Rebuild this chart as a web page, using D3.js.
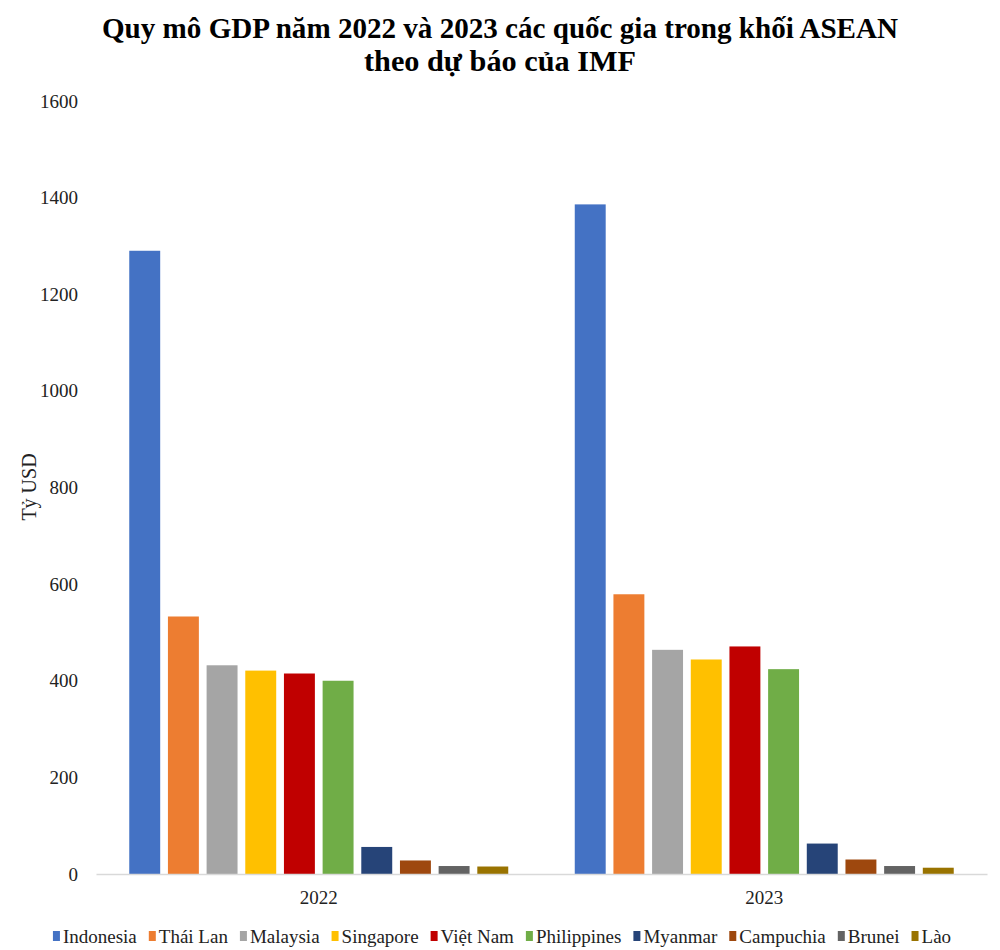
<!DOCTYPE html>
<html>
<head>
<meta charset="utf-8">
<script src="https://cdn.jsdelivr.net/npm/d3@7"></script>
<style>
  html, body { margin: 0; padding: 0; background: #fff; }
  svg { display: block; font-family: "Liberation Serif", "Times New Roman", serif; }
  svg text { font-family: "Liberation Serif", "Times New Roman", serif; }
</style>
</head>
<body>
<svg id="chart" width="1000" height="950"></svg>
<script>
// ---- Data ----
const years = ["2022", "2023"];
const countries = ["Indonesia", "Thái Lan", "Malaysia", "Singapore", "Việt Nam", "Philippines", "Myanmar", "Campuchia", "Brunei", "Lào"];
const values2022 = [1290, 533, 432, 421, 415, 400, 56, 28, 16.5, 15.5];
const values2023 = [1386, 579, 464, 444, 471, 424, 63, 30, 16.5, 13];
const colors = ["#4472C4", "#ED7D31", "#A5A5A5", "#FFC000", "#C00000", "#70AD47", "#264478", "#9E480E", "#636363", "#997300"];
const yTicks = [0, 200, 400, 600, 800, 1000, 1200, 1400, 1600];
const titleLines = ["Quy mô GDP năm 2022 và 2023 các quốc gia trong khối ASEAN", "theo dự báo của IMF"];
const yLabel = "Tỷ USD";

const seriesByYear = { "2022": values2022, "2023": values2023 };

const svg = d3.select("#chart");
const plotLeft = 96, plotRight = 987, plotTop = 101, plotBottom = 874;

const x0 = d3.scaleBand().domain(years).range([plotLeft, plotRight]).paddingInner(0).paddingOuter(0);
const x1 = d3.scaleBand().domain(countries).range([0, x0.bandwidth()]).paddingInner(0.2).paddingOuter(0.86);
const y = d3.scaleLinear().domain([0, 1600]).range([plotBottom, plotTop]);
const color = d3.scaleOrdinal().domain(countries).range(colors);

// Title
const title = svg.append("g");
title.append("text").attr("x", 500).attr("y", 38).attr("text-anchor", "middle")
  .attr("font-size", 30).attr("font-weight", "bold")
  .attr("textLength", 796).attr("lengthAdjust", "spacingAndGlyphs")
  .text(titleLines[0]);
title.append("text").attr("x", 500).attr("y", 71).attr("text-anchor", "middle")
  .attr("font-size", 30).attr("font-weight", "bold")
  .attr("textLength", 272).attr("lengthAdjust", "spacingAndGlyphs")
  .text(titleLines[1]);

// Y axis (labels only)
const yAxis = d3.axisLeft(y).tickValues(yTicks).tickSize(0).tickPadding(0).tickFormat(d3.format("d"));
const gy = svg.append("g").attr("transform", "translate(78,0)").call(yAxis);
gy.attr("font-family", null);
gy.select(".domain").remove();
gy.selectAll("text").attr("font-size", 19).attr("fill", "#222");

// Y label
svg.append("text").attr("transform", "translate(36,487) rotate(-90)")
  .attr("text-anchor", "middle").attr("font-size", 20).attr("fill", "#222")
  .text(yLabel);

// Bars
const groups = svg.append("g").selectAll("g").data(years).join("g")
  .attr("transform", d => `translate(${x0(d)},0)`);
groups.selectAll("rect")
  .data(yr => countries.map((c, i) => ({ c, v: seriesByYear[yr][i] })))
  .join("rect")
  .attr("x", d => x1(d.c))
  .attr("width", x1.bandwidth())
  .attr("y", d => y(d.v))
  .attr("height", d => y(0) - y(d.v))
  .attr("fill", d => color(d.c));

// X axis
const xAxis = d3.axisBottom(x0).tickSize(0).tickPadding(17);
const gx = svg.append("g").attr("transform", `translate(0,${plotBottom})`).call(xAxis);
gx.attr("font-family", null);
gx.select(".domain").attr("stroke", "#d9d9d9").attr("stroke-width", 1.3);
gx.selectAll("text").attr("font-size", 19).attr("fill", "#222");

// Legend
const legend = svg.append("g").attr("transform", "translate(0,937)");
const items = legend.selectAll("g").data(countries).join("g");
items.append("rect").attr("y", -6).attr("width", 7).attr("height", 10).attr("fill", d => color(d));
items.append("text").attr("x", 10).attr("y", 0).attr("dy", "0.33em")
  .attr("font-size", 19).attr("fill", "#222").text(d => d);
const widths = [];
items.each(function() { widths.push(this.querySelector("text").getComputedTextLength() + 10); });
const gap = 12;
const total = d3.sum(widths) + gap * (widths.length - 1);
let cx = 502 - total / 2;
items.attr("transform", (d, i) => { const t = `translate(${cx},0)`; cx += widths[i] + gap; return t; });
</script>
</body>
</html>
